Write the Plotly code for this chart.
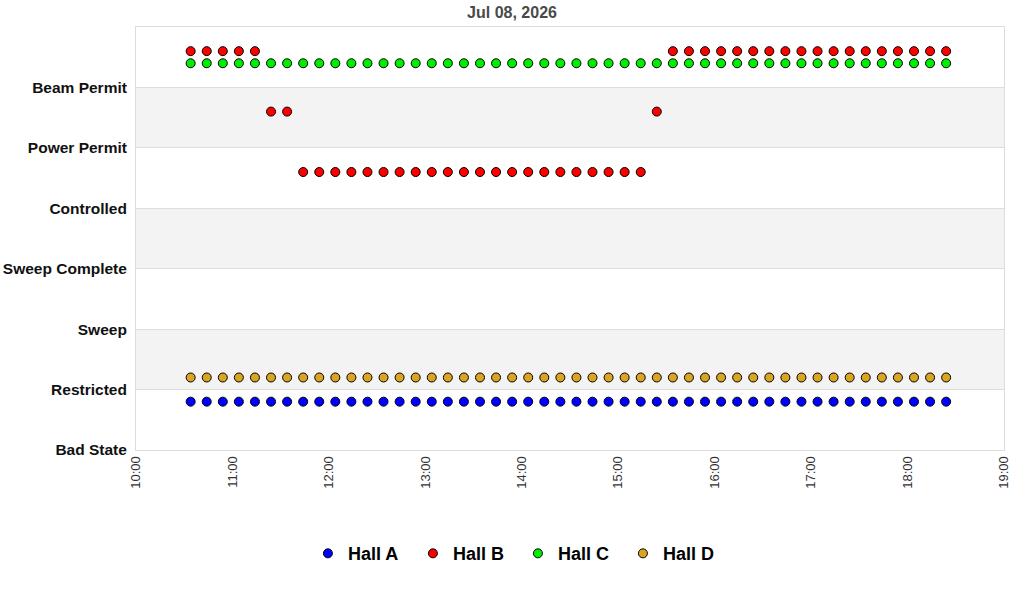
import plotly.graph_objects as go

title_text = "Jul 08, 2026"
state_labels = ["Bad State", "Restricted", "Sweep", "Sweep Complete",
                "Controlled", "Power Permit", "Beam Permit"]

times = [
    "2026-07-08 10:34", "2026-07-08 10:44", "2026-07-08 10:54", "2026-07-08 11:04",
    "2026-07-08 11:14", "2026-07-08 11:24", "2026-07-08 11:34", "2026-07-08 11:44",
    "2026-07-08 11:54", "2026-07-08 12:04", "2026-07-08 12:14", "2026-07-08 12:24",
    "2026-07-08 12:34", "2026-07-08 12:44", "2026-07-08 12:54", "2026-07-08 13:04",
    "2026-07-08 13:14", "2026-07-08 13:24", "2026-07-08 13:34", "2026-07-08 13:44",
    "2026-07-08 13:54", "2026-07-08 14:04", "2026-07-08 14:14", "2026-07-08 14:24",
    "2026-07-08 14:34", "2026-07-08 14:44", "2026-07-08 14:54", "2026-07-08 15:04",
    "2026-07-08 15:14", "2026-07-08 15:24", "2026-07-08 15:34", "2026-07-08 15:44",
    "2026-07-08 15:54", "2026-07-08 16:04", "2026-07-08 16:14", "2026-07-08 16:24",
    "2026-07-08 16:34", "2026-07-08 16:44", "2026-07-08 16:54", "2026-07-08 17:04",
    "2026-07-08 17:14", "2026-07-08 17:24", "2026-07-08 17:34", "2026-07-08 17:44",
    "2026-07-08 17:54", "2026-07-08 18:04", "2026-07-08 18:14", "2026-07-08 18:24",
]

hall_a_states = ["Restricted"] * 48
hall_b_states = (["Beam Permit"] * 5 + ["Power Permit"] * 2 + ["Controlled"] * 22
                 + ["Power Permit"] * 1 + ["Beam Permit"] * 18)
hall_c_states = ["Beam Permit"] * 48
hall_d_states = ["Restricted"] * 48

x_tick_vals = ["2026-07-08 %02d:00" % h for h in range(10, 20)]
x_tick_text = ["%02d:00" % h for h in range(10, 20)]

halls = [
    ("Hall A", hall_a_states, "#0000ff", -0.2),
    ("Hall B", hall_b_states, "#ff0000", 0.6),
    ("Hall C", hall_c_states, "#00ee00", 0.4),
    ("Hall D", hall_d_states, "#daa520", 0.2),
]

fig = go.Figure()
for name, states, color, off in halls:
    ys = [state_labels.index(s) + off for s in states]
    fig.add_trace(go.Scatter(
        x=times, y=ys, mode="markers", name=name,
        marker=dict(symbol="circle", size=9, color=color,
                    line=dict(color="black", width=1)),
    ))

shapes = []
for k in (1, 3, 5):
    shapes.append(dict(type="rect", xref="paper", yref="y", x0=0, x1=1,
                       y0=k, y1=k + 1, fillcolor="#f3f3f3", line_width=0,
                       layer="below"))
fig.update_layout(shapes=shapes)

fig.update_layout(
    width=1024, height=600,
    margin=dict(l=136, r=20, t=27, b=150, autoexpand=False),
    paper_bgcolor="white", plot_bgcolor="white",
    font=dict(family="Liberation Sans, Arial, sans-serif", color="#000"),
    title=dict(text=title_text, x=0.5, xanchor="center", y=0.98, yanchor="middle",
               font=dict(size=16, color="#4a4a4a", weight="bold")),
    showlegend=True,
    legend=dict(orientation="h", x=0.440, xanchor="center",
                y=-0.245, yanchor="middle",
                font=dict(size=18, weight="bold", color="#000"),
                itemwidth=30, entrywidth=60, entrywidthmode="pixels",
                traceorder="normal"),
    xaxis=dict(range=["2026-07-08 10:00", "2026-07-08 19:00"], type="date",
               tickvals=x_tick_vals, ticktext=x_tick_text, tickangle=-90,
               tickfont=dict(size=13, color="#333"), showgrid=False,
               showline=True, linecolor="#dddddd", linewidth=1, mirror=True,
               zeroline=False),
    yaxis=dict(range=[0, 7], tickvals=list(range(7)), ticktext=state_labels,
               tickfont=dict(size=15.5, weight="bold", color="#111"),
               ticklabelstandoff=5,
               showgrid=True, gridcolor="#dddddd", gridwidth=1,
               showline=True, linecolor="#dddddd", linewidth=1, mirror=True,
               zeroline=False, ticks=""),
)

fig.write_html("out.html")
